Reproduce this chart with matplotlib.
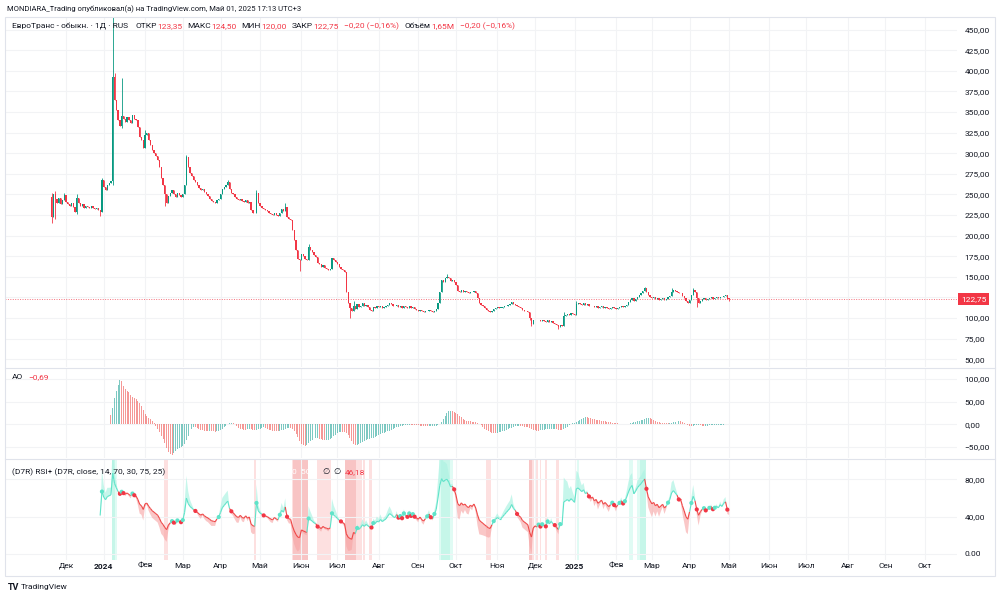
"""
EuroTrans (RUS) daily chart in TradingView style: candles, Awesome Oscillator, RSI+.
Writes: out.png
"""
import numpy as np
import pandas as pd
import matplotlib
matplotlib.use("Agg")
import matplotlib.pyplot as plt
import matplotlib.transforms as mtransforms
from matplotlib.collections import LineCollection
from matplotlib.patches import Rectangle
from matplotlib.lines import Line2D

W, H = 1000, 598
TEXT = "#131722"
GRID = "#f2f3f5"
BORDER = "#e0e3eb"
UP = "#089981"
DOWN = "#f23645"
AO_UP = "#26a69a"
AO_DOWN = "#ef5350"
RSI_BULL = "#5fe3c9"
RSI_BEAR = "#ef4747"
FS = 6

plt.rcParams.update({
    "font.family": ["Roboto", "DejaVu Sans"],
    "font.size": FS,
    "text.color": TEXT,
    "xtick.color": TEXT,
    "ytick.color": TEXT,
})

# daily bars, first one on 2023-11-21, last one on 2025-05-01
FIRST_OPEN = 247.0
CLOSE = [
    222, 250, 244, 240, 246, 238, 243, 249, 241, 238,
    236, 240, 235, 229, 246, 240, 236, 238, 234, 236,
    235, 233, 236, 234, 232, 233, 231, 229, 267, 259,
    255, 262, 264, 266, 392, 365, 352, 340, 333, 345,
    341, 338, 344, 340, 337, 346, 342, 340, 332, 320,
    316, 306, 322, 324, 316, 310, 304, 300, 296, 292,
    283, 270, 262, 250, 240, 248, 252, 255, 250, 247,
    252, 249, 247, 250, 262, 295, 283, 276, 272, 268,
    265, 262, 258, 255, 257, 253, 250, 248, 245, 242,
    241, 240, 243, 245, 250, 256, 259, 262, 265, 256,
    252, 250, 247, 244, 243, 245, 242, 241, 243, 240,
    241, 231, 228, 227, 252, 240, 236, 234, 232, 231,
    230, 228, 226, 225, 227, 225, 224, 228, 232, 230,
    235, 223, 220, 219, 207, 195, 183, 172, 170, 178,
    175, 172, 170, 186, 183, 180, 176, 174, 167, 165,
    162, 164, 161, 160, 158, 159, 173, 170, 168, 165,
    162, 160, 158, 156, 132, 118, 112, 108, 115, 111,
    117, 113, 115, 118, 114, 116, 113, 110, 109, 113,
    112, 114, 113, 115, 112, 113, 114, 116, 118, 117,
    115, 114, 116, 113, 114, 112, 115, 113, 112, 114,
    112, 113, 111, 110, 109, 110, 108, 107, 108, 109,
    110, 108, 107, 109, 111, 118, 132, 146, 144, 148,
    150, 148, 145, 146, 144, 140, 133, 131, 134, 132,
    133, 131, 130, 132, 131, 133, 130, 124, 118, 116,
    114, 112, 110, 108, 107, 109, 111, 112, 113, 112,
    112, 113, 114, 115, 116, 117, 119, 117, 116, 114,
    113, 112, 110, 109, 108, 107, 100, 93, 97, 98,
    97, 98, 96, 97, 96, 95, 97, 95, 96, 94,
    93, 91, 89, 91, 90, 103, 104, 105, 104, 106,
    105, 104, 117, 118, 117, 116, 118, 116, 117, 115,
    114, 115, 113, 114, 112, 113, 114, 112, 113, 112,
    111, 112, 113, 112, 111, 112, 113, 114, 113, 114,
    116, 119, 122, 124, 121, 123, 126, 128, 130, 133,
    136, 132, 128, 126, 124, 125, 123, 124, 122, 123,
    124, 122, 123, 125, 127, 132, 134, 133, 132, 130,
    130, 127, 124, 120, 118, 122, 128, 134, 131, 124,
    118, 121, 123, 124, 122, 123, 124, 125, 123, 124,
    125, 124, 126, 125, 127, 128, 123.35, 122.75,
]

# visible wicks beyond the candle bodies
WICK_BAR = [0, 2, 7, 14, 27, 28, 34, 35, 39, 52, 63, 75, 98, 114, 130, 138, 143,
            166, 168, 220, 266, 267, 282, 285, 292, 330, 345, 357, 359, 377]
WICK_HIGH = [252, 254, 252, 250, 0, 270, 465, 397, 391, 328, 0, 298, 268, 255, 240, 0, 190,
             0, 120, 153, 0, 0, 0, 107, 120, 138, 136, 136, 0, 124.5]
WICK_LOW = [215, 220, 999, 226, 224, 999, 262, 999, 330, 999, 236, 999, 999, 999, 999, 157, 999,
            100, 999, 999, 98, 90, 87, 999, 999, 999, 999, 999, 113, 120]

MONTHS_RU = ["Янв", "Фев", "Мар", "Апр", "Май", "Июн", "Июл", "Авг", "Сен", "Окт", "Ноя", "Дек"]
PRICE_TICKS = [50, 75, 100, 125, 150, 175, 200, 225, 250, 275, 300, 325, 350, 375, 400, 425, 450]
PRICE_HIDDEN = 125  # label covered by the last-price tag
AO_TICKS = [-50, 0, 50, 100]
RSI_TICKS = [0, 40, 80]
RSI_TICK_LABELS = ["0.00", "40,00", "80,00"]
LAST_PRICE = 122.75
RSI_CALC_FROM = 2   # skip the listing-day jump
RSI_START = 27

LEGEND = [
    ("ЕвроТранс - обыкн. · 1Д · RUS", TEXT, 7), ("ОТКР", TEXT, 0.5), ("123,35", DOWN, 5),
    ("МАКС", TEXT, 0.5), ("124,50", DOWN, 5), ("МИН", TEXT, 0.5), ("120,00", DOWN, 5),
    ("ЗАКР", TEXT, 0.5), ("122,75", DOWN, 5), ("\u22120,20 (\u22120,16%)", DOWN, 6),
    ("Объём", TEXT, 0.5), ("1,65M", DOWN, 5), ("\u22120,20 (\u22120,16%)", DOWN, 0),
]


def fx(px):
    return px / W


def fy(py):
    return 1 - py / H


def rma(v, n):
    # TradingView ta.rma: SMA seed, then Wilder smoothing
    out = np.full(len(v), np.nan)
    out[n] = np.mean(v[1:n + 1])
    for i in range(n + 1, len(v)):
        out[i] = (out[i - 1] * (n - 1) + v[i]) / n
    return out


def tv_rsi(c, n):
    d = np.r_[0.0, np.diff(c)]
    up = rma(np.clip(d, 0, None), n)
    dn = rma(np.clip(-d, 0, None), n)
    return 100 - 100 / (1 + up / dn)


def ru_num(v):
    return f"{v:,.2f}".replace(",", " ").replace(".", ",").replace("-", "\u2212")


def style_axis(ax, xlim, ylim, yticks, ylabels, tick_pos):
    ax.set_xlim(*xlim)
    ax.set_ylim(*ylim)
    for s in ax.spines.values():
        s.set_visible(False)
    ax.yaxis.tick_right()
    ax.set_yticks(yticks)
    ax.set_yticklabels(ylabels)
    ax.tick_params(axis="y", length=0, pad=5.5, labelsize=FS)
    ax.set_xticks(tick_pos)
    ax.tick_params(axis="x", length=0)
    ax.grid(True, color=GRID, lw=0.8)
    ax.set_axisbelow(True)


def chain_text(fig, x0, y, parts):
    r = fig.canvas.get_renderer()
    xpx = x0
    for txt, c, gap in parts:
        t = fig.text(fx(xpx), fy(y), txt, color=c, fontsize=FS, va="center")
        xpx += t.get_window_extent(renderer=r).width + gap


def main():
    dates = pd.bdate_range("2023-11-20", "2025-10-31")
    close = np.array(CLOSE, dtype=float)
    n = len(close)
    x = np.arange(1, n + 1)
    opn = np.r_[FIRST_OPEN, close[:-1]]
    high = np.maximum(opn, close)
    low = np.minimum(opn, close)
    for k, h, l in zip(WICK_BAR, WICK_HIGH, WICK_LOW):
        high[k] = max(high[k], h)
        low[k] = min(low[k], l)

    months = pd.date_range("2023-12-01", "2025-10-01", freq="MS")
    tick_pos = [int(dates.searchsorted(m)) for m in months]
    tick_lab = [str(m.year) if m.month == 1 else MONTHS_RU[m.month - 1] for m in months]
    s = (925 - 66) / (tick_pos[-1] - tick_pos[0])
    xlim = (tick_pos[0] - (66 - 5) / s, tick_pos[0] + (957 - 66) / s)

    fig = plt.figure(figsize=(W / 100, H / 100), dpi=100)
    ax_p = fig.add_axes([fx(5), fy(367), 952 / W, 350 / H])
    ax_a = fig.add_axes([fx(5), fy(458), 952 / W, 90 / H])
    ax_r = fig.add_axes([fx(5), fy(560), 952 / W, 101 / H])

    # ---- price
    p_labels = ["" if v == PRICE_HIDDEN else ru_num(v) for v in PRICE_TICKS]
    style_axis(ax_p, xlim, (40.5, 465.3), PRICE_TICKS, p_labels, tick_pos)
    ax_p.set_xticklabels([])
    up = close >= opn
    col = np.where(up, UP, DOWN)
    ax_p.vlines(x, low, high, colors=col, lw=0.6, zorder=2)
    body = np.where(np.abs(close - opn) < 0.9, 0.9, np.abs(close - opn))
    ax_p.bar(x, body, bottom=np.minimum(opn, close), width=0.7, color=col, lw=0, zorder=3)
    ax_p.axhline(LAST_PRICE, color=DOWN, ls=(0, (1, 1.5)), lw=0.7, alpha=0.7, zorder=1)
    tr = mtransforms.blended_transform_factory(ax_p.transAxes, ax_p.transData)
    ax_p.text(1.004, LAST_PRICE, ru_num(LAST_PRICE), transform=tr, ha="left", va="center",
              color="white", fontsize=FS, clip_on=False,
              bbox=dict(boxstyle="square,pad=0.35", fc=DOWN, ec="none"))

    # ---- awesome oscillator
    med = pd.Series((high + low) / 2)
    ao = (med.rolling(5).mean() - med.rolling(34).mean()).values
    style_axis(ax_a, xlim, (-74, 124), AO_TICKS, [ru_num(v) for v in AO_TICKS], tick_pos)
    ax_a.set_xticklabels([])
    ok = ~np.isnan(ao)
    rising = np.r_[True, ao[1:] >= ao[:-1]]
    ao_col = np.where(rising, AO_UP, AO_DOWN)
    ax_a.bar(x[ok], ao[ok], width=0.55, color=ao_col[ok], alpha=0.6, lw=0)

    # ---- RSI+
    rsi = np.full(n, np.nan)
    rsi[RSI_CALC_FROM:] = tv_rsi(close[RSI_CALC_FROM:], 14)
    sig = pd.Series(rsi).ewm(span=9, adjust=False).mean().values
    edge = rsi + 1.3 * (rsi - sig)
    bull = rsi >= sig
    style_axis(ax_r, xlim, (-6.5, 101.6), RSI_TICKS, RSI_TICK_LABELS, tick_pos)
    ax_r.set_xticklabels(tick_lab)
    ax_r.tick_params(axis="x", pad=2, labelsize=FS)
    for lab in ax_r.get_xticklabels():
        if lab.get_text().isdigit():
            lab.set_fontweight("bold")

    for k in range(RSI_START, n):
        v = rsi[k]
        c = None
        if v > 75:
            c = "#c6f6e9"
        elif v > 70:
            c = "#e0fbf4"
        elif v < 25:
            c = "#f8c4c4"
        elif v < 30:
            c = "#fde0e0"
        if c:
            ax_r.axvspan(x[k] - 0.5, x[k] + 0.5, color=c, lw=0, zorder=0.5)

    xs, rs, es, bs = x[RSI_START:], rsi[RSI_START:], edge[RSI_START:], bull[RSI_START:]
    ax_r.fill_between(xs, rs, es, where=bs, color="#aef3e3", alpha=0.7, lw=0, interpolate=True, zorder=1)
    ax_r.fill_between(xs, rs, es, where=~bs, color="#f7a3a3", alpha=0.6, lw=0, interpolate=True, zorder=1)
    segs = [[(xs[j - 1], rs[j - 1]), (xs[j], rs[j])] for j in range(1, len(xs))]
    seg_col = [RSI_BULL if bs[j] else RSI_BEAR for j in range(1, len(xs))]
    ax_r.add_collection(LineCollection(segs, colors=seg_col, linewidths=0.8, zorder=2))
    flip = np.where(bs[1:] != bs[:-1])[0] + 1
    ax_r.scatter(xs[flip], rs[flip], s=9, c=[RSI_BULL if bs[j] else DOWN for j in flip],
                 lw=0, zorder=3)

    # ---- frame and texts
    fig.add_artist(Rectangle((fx(5), fy(576)), 990 / W, (576 - 17) / H, transform=fig.transFigure,
                             fill=False, ec=BORDER, lw=0.8))
    for py in (367.5, 458.5):
        fig.add_artist(Line2D([fx(5), fx(995)], [fy(py), fy(py)], transform=fig.transFigure,
                              color=BORDER, lw=0.8))

    fig.text(fx(7), fy(9), "MONDIARA_Trading опубликовал(а) на TradingView.com, Май 01, 2025 17:13 UTC+3",
             fontsize=5.5, va="center")
    chain_text(fig, 12, 26, LEGEND)
    chain_text(fig, 12, 377, [("AO", TEXT, 5), ("\u22120,69", DOWN, 0)])
    fig.text(fx(12), fy(472), "(D7R) RSI+ (D7R, close, 14, 70, 30, 75, 25)", fontsize=FS, va="center")
    fig.text(fx(170), fy(472), "3", color="white", fontsize=FS, va="center")
    fig.text(fx(292), fy(472), "0  50", color="white", fontsize=FS, va="center")
    chain_text(fig, 322, 472, [("\u2205", TEXT, 4), ("\u2205", TEXT, 4), ("46,18", DOWN, 0)])

    fig.text(fx(8), fy(587), "TV", fontsize=6.5, fontweight="bold", va="center")
    fig.text(fx(21), fy(587), "TradingView", fontsize=6, va="center")

    fig.savefig("out.png", dpi=100)
    plt.close(fig)
    print("Saved: out.png")


if __name__ == "__main__":
    main()
